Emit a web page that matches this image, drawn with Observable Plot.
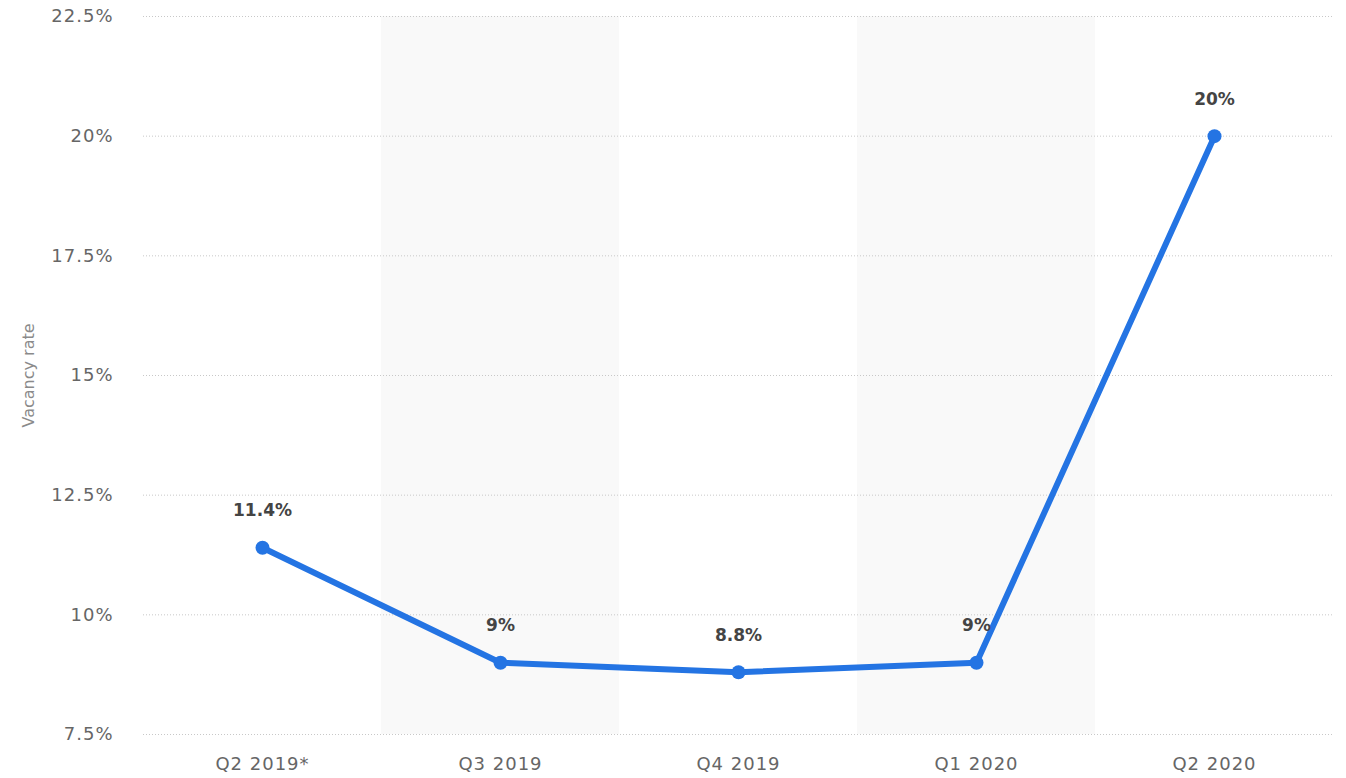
<!DOCTYPE html>
<html>
<head>
<meta charset="utf-8">
<script src="https://cdn.jsdelivr.net/npm/d3@7"></script>
<script src="https://cdn.jsdelivr.net/npm/@observablehq/plot@0.6"></script>
<style>
  html, body { margin: 0; padding: 0; background: #fff; }
  #chart svg { display: block; }
  .ax text { letter-spacing: 1px; }
</style>
</head>
<body>
<div id="chart"></div>
<script>
const quarters = ["Q2 2019*", "Q3 2019", "Q4 2019", "Q1 2020", "Q2 2020"];
const vacancy = [11.4, 9, 8.8, 9, 20];
const labels = ["11.4%", "9%", "8.8%", "9%", "20%"];
const yTicks = [7.5, 10, 12.5, 15, 17.5, 20, 22.5];
const shaded = ["Q3 2019", "Q1 2020"];

const data = quarters.map((q, i) => ({ q, v: vacancy[i], label: labels[i] }));
const fmt = v => `${v}%`;

const chart = Plot.plot({
  width: 1346,
  height: 778,
  marginLeft: 143,
  marginRight: 13,
  marginTop: 16,
  marginBottom: 44,
  style: { fontFamily: "'DejaVu Sans', sans-serif", background: "#fff" },
  x: { type: "band", domain: quarters, padding: 0, label: null },
  y: { domain: [7.5, 22.5], label: null },
  marks: [
    Plot.barY(shaded, { x: d => d, y1: 7.5, y2: 22.5, fill: "#f9f9f9" }),
    Plot.ruleY(yTicks, { stroke: "#c8c8c8", strokeDasharray: "1,2", strokeWidth: 1 }),
    Plot.axisY(yTicks, {
      tickSize: 0, tickPadding: 30, tickFormat: fmt, fontSize: 18, fill: "#666",
      label: null, className: "ax"
    }),
    Plot.text(["Vacancy rate"], {
      frameAnchor: "left", dx: -115, rotate: -90, fontSize: 16, fill: "#8a8a8a",
      textAnchor: "middle"
    }),
    Plot.axisX({ tickSize: 0, tickPadding: 23, fontSize: 18, fill: "#666", label: null, className: "ax" }),
    Plot.line(data, { x: "q", y: "v", stroke: "#2474e3", strokeWidth: 6, strokeLinejoin: "round", strokeLinecap: "round" }),
    Plot.dot(data, { x: "q", y: "v", r: 7, fill: "#2474e3" }),
    Plot.text(data, { x: "q", y: "v", text: "label", dy: -37, fontSize: 17, fontWeight: "bold", fill: "#444" })
  ]
});
document.getElementById("chart").appendChild(chart);
</script>
</body>
</html>
